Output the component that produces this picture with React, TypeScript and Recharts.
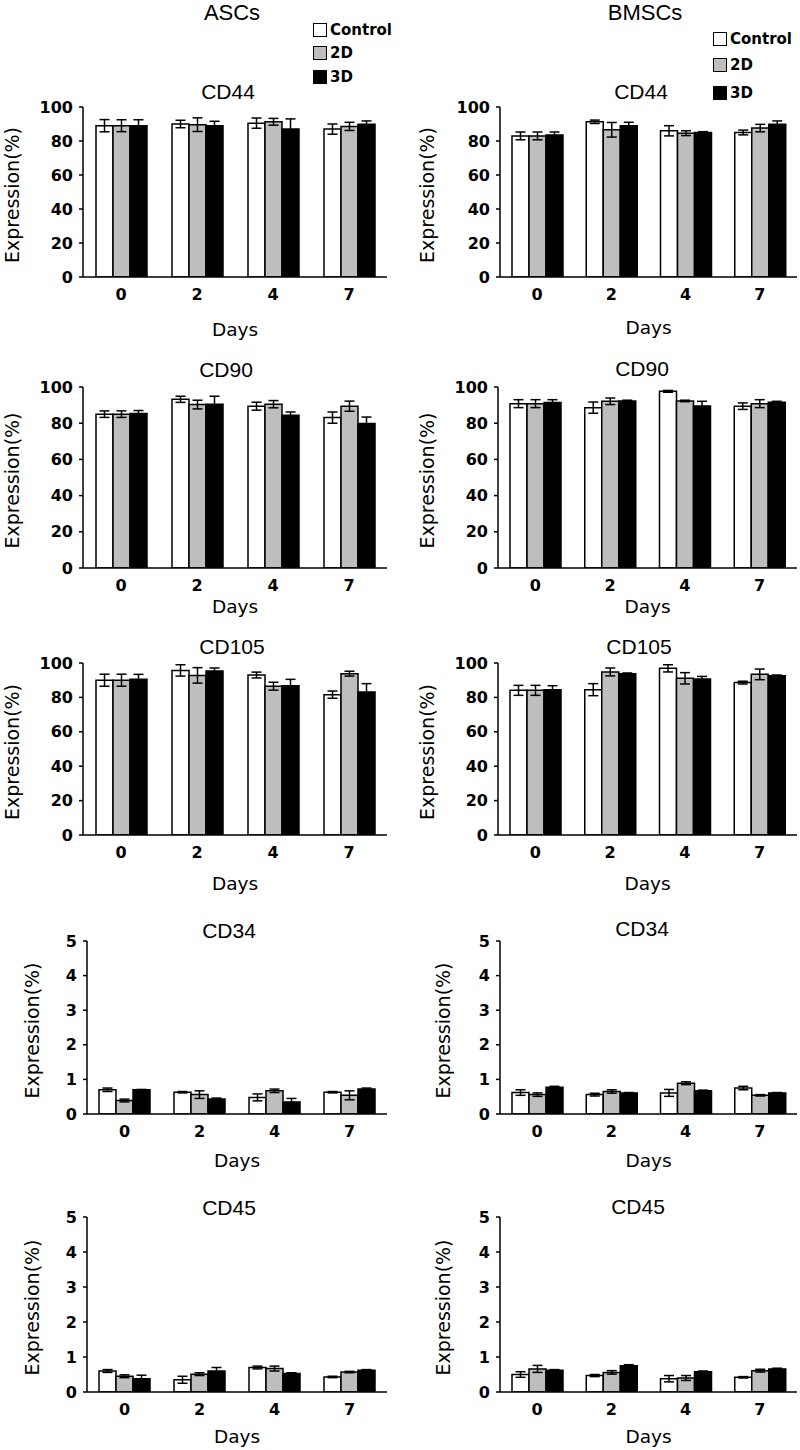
import React from "react";
import { BarChart, Bar, XAxis, YAxis, ErrorBar } from "recharts";

const days = ["0", "2", "4", "7"];
const groups = ["Control", "2D", "3D"];
const groupFills = ["#ffffff", "#bebebe", "#000000"];
const pctTicks = [0, 20, 40, 60, 80, 100];
const lowTicks = [0, 1, 2, 3, 4, 5];

// rows: Control, 2D, 3D; columns: day 0, 2, 4, 7
const ascCD44 = [[89, 90, 90.5, 87], [89, 89.6, 91.3, 88.6], [89, 89, 87, 89.8]];
const ascCD44Err = [[3.6, 2.2, 3, 3], [3.5, 4, 2, 2.4], [3.5, 2.6, 6, 2]];
const bmCD44 = [[83, 91.3, 86, 85], [83, 86.6, 84.6, 87.6], [83.5, 89, 85, 89.8]];
const bmCD44Err = [[2.3, 1, 3, 1.4], [2.3, 4.3, 1.4, 2.2], [1.8, 2, 0.5, 2]];
const ascCD90 = [[85, 93.2, 89.4, 83.1], [85, 90.3, 90.5, 89.4], [85.3, 90.5, 84.4, 79.8]];
const ascCD90Err = [[1.8, 1.7, 2.2, 3.1], [1.8, 2.4, 2, 2.8], [1.7, 4.4, 1.8, 3.6]];
const bmCD90 = [[90.8, 88.6, 97.6, 89.4], [90.8, 92.1, 92.3, 90.8], [91.4, 92.3, 89.5, 91.6]];
const bmCD90Err = [[2.2, 3.1, 0.5, 1.8], [2.2, 1.8, 0.4, 2.2], [1.6, 0.4, 2.6, 0.5]];
const ascCD105 = [[90, 95.7, 93, 81.6], [90, 92.8, 86.5, 93.8], [90.5, 95.4, 86.8, 83.2]];
const ascCD105Err = [[3.5, 3.3, 1.7, 2.1], [3.5, 4.5, 2.3, 1.4], [2.9, 1.7, 3.7, 4.8]];
const bmCD105 = [[84.1, 84.5, 96.9, 88.6], [84.1, 94.8, 91.1, 93.4], [84.5, 93.8, 90.7, 92.6]];
const bmCD105Err = [[2.9, 3.5, 2.1, 0.8], [2.9, 2.3, 3.3, 3.1], [2.3, 0.4, 1.5, 0.4]];
const ascCD34 = [[0.7, 0.63, 0.48, 0.63], [0.39, 0.56, 0.67, 0.54], [0.7, 0.43, 0.35, 0.72]];
const ascCD34Err = [[0.05, 0.02, 0.1, 0.02], [0.04, 0.11, 0.05, 0.13], [0.01, 0.03, 0.1, 0.03]];
const bmCD34 = [[0.62, 0.56, 0.61, 0.75], [0.56, 0.65, 0.89, 0.54], [0.77, 0.61, 0.67, 0.61]];
const bmCD34Err = [[0.08, 0.04, 0.1, 0.05], [0.05, 0.05, 0.04, 0.02], [0.03, 0.01, 0.02, 0.01]];
const ascCD45 = [[0.6, 0.35, 0.7, 0.43], [0.45, 0.51, 0.67, 0.57], [0.38, 0.6, 0.53, 0.62]];
const ascCD45Err = [[0.04, 0.1, 0.04, 0.02], [0.04, 0.04, 0.07, 0.02], [0.1, 0.1, 0.02, 0.02]];
const bmCD45 = [[0.5, 0.47, 0.38, 0.42], [0.66, 0.56, 0.4, 0.61], [0.62, 0.75, 0.58, 0.66]];
const bmCD45Err = [[0.08, 0.03, 0.09, 0.02], [0.1, 0.05, 0.07, 0.04], [0.02, 0.03, 0.02, 0.02]];

const VERDANA = "'DejaVu Sans', Verdana, sans-serif";
const ARIAL = "'Liberation Sans', Arial, sans-serif";

type Panel = {
  title: string;
  means: number[][];
  errs: number[][];
  ticks: number[];
  colX: number;
  plotTop: number;
  plotBottom: number;
  plotLeft: number;
  plotRight: number;
  titleX: number;
  titleY: number;
  daysY: number;
  ylabX: number;
};

const panels: Panel[] = [
  { title: "CD44", means: ascCD44, errs: ascCD44Err, ticks: pctTicks, colX: 0, plotTop: 107, plotBottom: 277, plotLeft: 83, plotRight: 387, titleX: 228, titleY: 92, daysY: 330, ylabX: 12 },
  { title: "CD90", means: ascCD90, errs: ascCD90Err, ticks: pctTicks, colX: 0, plotTop: 387, plotBottom: 568, plotLeft: 83, plotRight: 387, titleX: 226, titleY: 370, daysY: 607, ylabX: 12 },
  { title: "CD105", means: ascCD105, errs: ascCD105Err, ticks: pctTicks, colX: 0, plotTop: 663, plotBottom: 835, plotLeft: 83, plotRight: 387, titleX: 232, titleY: 647, daysY: 884, ylabX: 12 },
  { title: "CD34", means: ascCD34, errs: ascCD34Err, ticks: lowTicks, colX: 0, plotTop: 941, plotBottom: 1114, plotLeft: 87, plotRight: 387, titleX: 229, titleY: 931, daysY: 1161, ylabX: 32 },
  { title: "CD45", means: ascCD45, errs: ascCD45Err, ticks: lowTicks, colX: 0, plotTop: 1217, plotBottom: 1392, plotLeft: 87, plotRight: 387, titleX: 229, titleY: 1208, daysY: 1437, ylabX: 32 },
  { title: "CD44", means: bmCD44, errs: bmCD44Err, ticks: pctTicks, colX: 400, plotTop: 107, plotBottom: 277, plotLeft: 500, plotRight: 797, titleX: 641, titleY: 92, daysY: 328, ylabX: 427 },
  { title: "CD90", means: bmCD90, errs: bmCD90Err, ticks: pctTicks, colX: 400, plotTop: 387, plotBottom: 568, plotLeft: 498, plotRight: 797, titleX: 642, titleY: 369, daysY: 607, ylabX: 427 },
  { title: "CD105", means: bmCD105, errs: bmCD105Err, ticks: pctTicks, colX: 400, plotTop: 663, plotBottom: 835, plotLeft: 498, plotRight: 797, titleX: 639, titleY: 647, daysY: 884, ylabX: 427 },
  { title: "CD34", means: bmCD34, errs: bmCD34Err, ticks: lowTicks, colX: 400, plotTop: 941, plotBottom: 1114, plotLeft: 500, plotRight: 797, titleX: 642, titleY: 929, daysY: 1161, ylabX: 443 },
  { title: "CD45", means: bmCD45, errs: bmCD45Err, ticks: lowTicks, colX: 400, plotTop: 1217, plotBottom: 1392, plotLeft: 500, plotRight: 797, titleX: 638, titleY: 1207, daysY: 1437, ylabX: 443 },
];

const TOP_PAD = 15;
const X_AXIS_H = 30;
const BOTTOM_PAD = 45;

function PanelChart({ p }: { p: Panel }) {
  const data = days.map((d, i) => ({
    day: d,
    g0: p.means[0][i],
    g1: p.means[1][i],
    g2: p.means[2][i],
    e0: p.errs[0][i],
    e1: p.errs[1][i],
    e2: p.errs[2][i],
  }));
  const chartTop = p.plotTop - TOP_PAD;
  const height = p.plotBottom - chartTop + X_AXIS_H + BOTTOM_PAD;
  const midX = (p.plotLeft + p.plotRight) / 2 - p.colX;
  const midY = (p.plotTop + p.plotBottom) / 2 + 3 - chartTop;
  const ylx = p.ylabX - p.colX;

  return (
    <div style={{ position: "absolute", left: p.colX, top: chartTop }}>
      <BarChart
        width={400}
        height={height}
        data={data}
        barSize={17}
        barGap={0}
        margin={{ top: TOP_PAD, right: p.colX + 400 - p.plotRight, left: 0, bottom: BOTTOM_PAD }}
      >
        <XAxis
          dataKey="day"
          height={X_AXIS_H}
          axisLine={{ stroke: "#000", strokeWidth: 1.5 }}
          tickLine={false}
          tickSize={6}
          tickMargin={6}
          tick={{ fill: "#000", fontSize: 16, fontWeight: 700, fontFamily: VERDANA }}
          label={() => (
            <text x={midX} y={p.daysY - chartTop} dy="0.35em" textAnchor="middle" fontSize={18.5} fontFamily={VERDANA} fill="#000">
              Days
            </text>
          )}
        />
        <YAxis
          width={p.plotLeft - p.colX}
          domain={[p.ticks[0], p.ticks[p.ticks.length - 1]]}
          ticks={p.ticks}
          allowDataOverflow
          axisLine={{ stroke: "#000", strokeWidth: 1.5 }}
          tickLine={{ stroke: "#000", strokeWidth: 1.5 }}
          tickSize={4}
          tickMargin={6}
          tick={{ fill: "#000", fontSize: 16, fontWeight: 700, fontFamily: VERDANA }}
          label={() => (
            <text
              x={ylx}
              y={midY}
              dy="0.35em"
              textAnchor="middle"
              transform={`rotate(-90, ${ylx}, ${midY})`}
              fontSize={19}
              fontFamily={VERDANA}
              fill="#000"
            >
              Expression(%)
            </text>
          )}
        />
        {groups.map((g, gi) => (
          <Bar
            key={g}
            dataKey={`g${gi}`}
            name={g}
            fill={groupFills[gi]}
            stroke="#000"
            strokeWidth={1.5}
            isAnimationActive={false}
          >
            <ErrorBar dataKey={`e${gi}`} width={5} stroke="#000" strokeWidth={1.5} direction="y" isAnimationActive={false} />
          </Bar>
        ))}
      </BarChart>
      <div
        style={{
          position: "absolute",
          left: p.titleX - p.colX,
          top: p.titleY - chartTop,
          transform: "translate(-50%, -50%)",
          fontFamily: ARIAL,
          fontSize: 21,
          color: "#000",
          whiteSpace: "nowrap",
        }}
      >
        {p.title}
      </div>
    </div>
  );
}

function LegendBox({ left, rows }: { left: number; rows: number[] }) {
  return (
    <>
      {groups.map((g, i) => (
        <div
          key={g}
          style={{
            position: "absolute",
            left,
            top: rows[i] - 9,
            height: 18,
            display: "flex",
            alignItems: "center",
            fontFamily: VERDANA,
            fontWeight: 700,
            fontSize: 15,
            color: "#000",
          }}
        >
          <div
            style={{
              width: 12,
              height: 12,
              background: groupFills[i],
              border: "1.5px solid #000",
              marginRight: 3,
            }}
          />
          {g}
        </div>
      ))}
    </>
  );
}

export default function App() {
  return (
    <div style={{ position: "absolute", left: 0, top: 0, width: 800, height: 1450, background: "#fff" }}>
      <div style={{ position: "absolute", left: 232, top: 13, transform: "translate(-50%, -50%)", fontFamily: ARIAL, fontSize: 22 }}>
        ASCs
      </div>
      <div style={{ position: "absolute", left: 645, top: 13, transform: "translate(-50%, -50%)", fontFamily: ARIAL, fontSize: 22 }}>
        BMSCs
      </div>
      <LegendBox left={313} rows={[30, 53, 77]} />
      <LegendBox left={713} rows={[39, 65, 93]} />
      {panels.map((p, i) => (
        <PanelChart key={i} p={p} />
      ))}
    </div>
  );
}
